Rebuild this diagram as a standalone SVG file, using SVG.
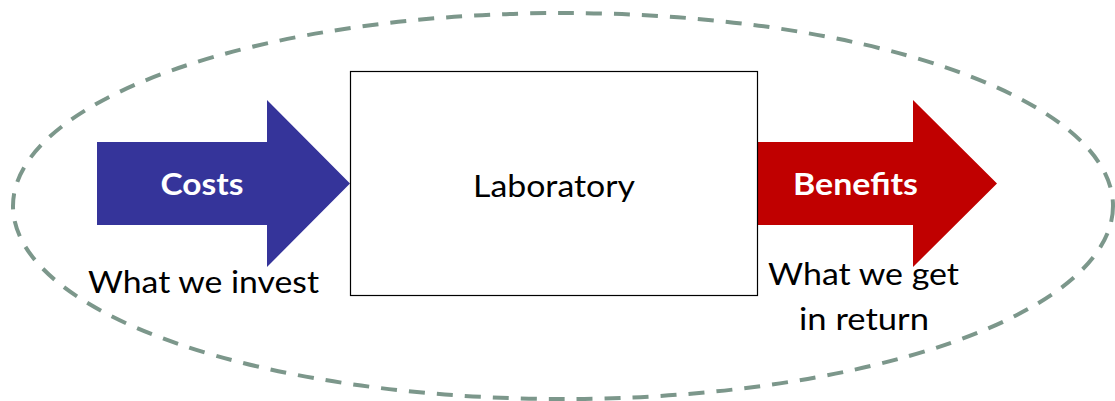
<svg xmlns="http://www.w3.org/2000/svg" width="1115" height="401" viewBox="0 0 1115 401">
  <style>
    .label { font-family: Lato, "Liberation Sans", sans-serif; fill: #000; }
    .arrow-label { font-family: Lato, "Liberation Sans", sans-serif; font-weight: bold; fill: #fff; }
    .boundary { fill: none; stroke: #7c978b; stroke-width: 4; stroke-dasharray: 16 12; }
  </style>
  <rect width="1115" height="401" fill="#fff"/>

  <!-- dashed system boundary -->
  <ellipse class="boundary" cx="563" cy="206" rx="550" ry="193"/>

  <g id="connectors">
    <!-- inflow: costs -->
    <g id="costs">
      <polygon points="97,142 267,142 267,100 350,183.5 267,267 267,225 97,225" fill="#35349a"/>
      <text class="arrow-label" x="202" y="195" font-size="31" text-anchor="middle" textLength="83" lengthAdjust="spacingAndGlyphs">Costs</text>
    </g>
    <!-- outflow: benefits -->
    <g id="benefits">
      <polygon points="757,142 913,142 913,100 997,183.5 913,267 913,225 757,225" fill="#c00000"/>
      <text class="arrow-label" x="855.5" y="195" font-size="31" text-anchor="middle" textLength="125" lengthAdjust="spacingAndGlyphs">Benefits</text>
    </g>
  </g>

  <g id="laboratory">
    <rect x="350.5" y="71.5" width="407" height="224" fill="#fff" stroke="#000" stroke-width="1.2"/>
    <text class="label" x="554" y="196.5" font-size="31" text-anchor="middle" textLength="162" lengthAdjust="spacingAndGlyphs">Laboratory</text>
  </g>

  <g id="invest-note">
    <text class="label" x="203.5" y="293" font-size="30" text-anchor="middle" textLength="231" lengthAdjust="spacingAndGlyphs">What we invest</text>
  </g>

  <g id="return-note">
    <text class="label" x="863.5" y="285" font-size="30" text-anchor="middle" textLength="191" lengthAdjust="spacingAndGlyphs">What we get</text>
    <text class="label" x="864" y="330" font-size="30" text-anchor="middle" textLength="130" lengthAdjust="spacingAndGlyphs">in return</text>
  </g>
</svg>
